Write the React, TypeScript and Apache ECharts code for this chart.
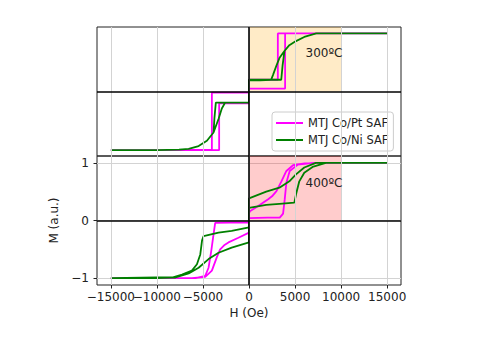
import React, { useEffect, useRef } from 'react';
import * as echarts from 'echarts';

// Axis ticks
const xTicks = [-15000, -10000, -5000, 0, 5000, 10000, 15000];
const xLabelsMain = [-10000, -5000, 0, 5000, 10000, 15000];
const xLabelsEdge = [-15000];
const yTicks = [-1, 0, 1];
const seriesNames = ['MTJ Co/Pt SAF', 'MTJ Co/Ni SAF'];
const panelLabels = ['300ºC', '400ºC'];

// 300ºC, MTJ Co/Pt SAF (loop: descending then ascending field)
const ptH300 = [15000, 10000, 5000, 3130, 3130, 1500, 0, 0, -2000, -4030, -4030, -8000, -15000,
  -15000, -8000, -3240, -3240, -1500, 0, 0, 2000, 3920, 3920, 8000, 15000];
const ptM300 = [0.99, 0.99, 0.99, 0.99, 0.2, 0.2, 0.2, -0.02, -0.02, -0.02, -0.99, -1.0, -1.0,
  -1.0, -1.0, -1.0, -0.2, -0.2, -0.2, 0.05, 0.05, 0.05, 0.99, 0.99, 0.99];

// 300ºC, MTJ Co/Ni SAF
const niH300 = [15000, 10000, 7300, 6000, 5100, 4380, 3850, 3300, 2950, 2600, 2400, 1200, 0, 0,
  -2000, -3600, -3750, -3850, -4570, -5470, -6550, -7600, -10000, -15000,
  -15000, -10000, -7600, -6550, -5470, -4570, -3850, -3310, -2950, -2590, -1200, 0, 0,
  2000, 3500, 3650, 3850, 4380, 5100, 6000, 7300, 10000, 15000];
const niM300 = [0.99, 0.99, 0.99, 0.93, 0.86, 0.79, 0.69, 0.57, 0.43, 0.28, 0.2, 0.19, 0.19, -0.19,
  -0.19, -0.19, -0.45, -0.7, -0.84, -0.93, -0.98, -0.99, -1.0, -1.0,
  -1.0, -1.0, -0.99, -0.98, -0.93, -0.84, -0.7, -0.47, -0.29, -0.19, -0.19, -0.19, 0.2,
  0.2, 0.2, 0.45, 0.69, 0.79, 0.86, 0.93, 0.99, 0.99, 0.99];

// 400ºC, MTJ Co/Pt SAF
const ptH400 = [15000, 10000, 7000, 6040, 4780, 4060, 3520, 2980, 2500, 2080, 1000, 100, 0, 0,
  -2000, -3670, -3850, -4100, -4390, -4750, -5800, -10000, -15000,
  -15000, -10000, -6200, -4750, -4030, -3500, -3130, -2700, -2230, -1150, 0, 0,
  2000, 3340, 3700, 3880, 4060, 4420, 5300, 7000, 10000, 15000];
const ptM400 = [1.0, 1.0, 1.0, 0.99, 0.96, 0.86, 0.68, 0.51, 0.42, 0.37, 0.25, 0.16, 0.13, -0.03,
  -0.035, -0.04, -0.24, -0.53, -0.82, -0.96, -1.0, -1.0, -1.0,
  -1.0, -1.0, -1.0, -0.98, -0.87, -0.64, -0.5, -0.43, -0.38, -0.3, -0.21, 0.04,
  0.05, 0.05, 0.12, 0.37, 0.66, 0.86, 0.97, 1.0, 1.0, 1.0];

// 400ºC, MTJ Co/Ni SAF
const niH400 = [15000, 10000, 7260, 6000, 5100, 4380, 3300, 1870, 70, 0, 0,
  -1880, -3310, -4930, -5100, -5290, -5650, -6200, -7270, -8350, -10000, -15000,
  -15000, -10000, -7980, -6550, -5470, -4390, -3310, -1880, 0, 0,
  1870, 3300, 4920, 5100, 5460, 6000, 6900, 8340, 10000, 15000];
const niM400 = [1.0, 1.0, 1.0, 0.92, 0.8, 0.68, 0.57, 0.5, 0.39, 0.38, -0.12,
  -0.18, -0.21, -0.27, -0.35, -0.59, -0.76, -0.87, -0.94, -0.99, -1.0, -1.0,
  -0.99, -0.99, -0.99, -0.92, -0.82, -0.67, -0.56, -0.47, -0.38, 0.22,
  0.27, 0.29, 0.31, 0.45, 0.68, 0.83, 0.93, 1.0, 1.0, 1.0];

const zip = (h: number[], m: number[]) => h.map((v, i) => [v, m[i]]);

export default function App() {
  const ref = useRef<HTMLDivElement>(null);
  useEffect(() => {
    if (!ref.current) return;
    const chart = echarts.init(ref.current, null, { renderer: 'svg' });
    const font = 'DejaVu Sans';
    const txt = '#222';
    const fmt = (v: number) => (v < 0 ? '\u2212' + Math.abs(v) : String(v));
    const gridLine = { color: '#d3d3d3', width: 1, type: 'solid' };
    const tickStyle = { color: '#222', width: 1 };
    const magenta = '#ff00ff';
    const green = '#008000';
    const zeroLines = {
      silent: true,
      symbol: ['none', 'none'],
      label: { show: false },
      lineStyle: { color: '#000', width: 1.6, type: 'solid' },
      emphasis: { disabled: true },
      data: [{ xAxis: 0 }, { yAxis: 0 }],
    };
    const vGrid = {
      silent: true,
      symbol: ['none', 'none'],
      label: { show: false },
      lineStyle: gridLine,
      emphasis: { disabled: true },
      data: xTicks.map((v) => ({ xAxis: v })),
    };
    const lineSeries = (name: string, xi: number, data: number[][], color: string, extra: any) => ({
      name,
      type: 'line',
      xAxisIndex: xi,
      yAxisIndex: xi,
      data,
      symbol: 'none',
      showSymbol: false,
      lineStyle: { color, width: 1.8 },
      itemStyle: { color },
      emphasis: { disabled: true },
      ...extra,
    });
    const xLabelStyle = {
      formatter: fmt, fontSize: 12, color: txt, margin: 6, fontFamily: font,
      showMinLabel: true, showMaxLabel: true, hideOverlap: false,
    };
    const option: any = {
      animation: false,
      textStyle: { fontFamily: font },
      grid: [
        { left: 97, top: 27, width: 304, height: 129, show: true, borderColor: '#222', borderWidth: 1, backgroundColor: 'transparent' },
        { left: 97, top: 156, width: 304, height: 129, show: true, borderColor: '#222', borderWidth: 1, backgroundColor: 'transparent' },
      ],
      xAxis: [
        {
          type: 'value', gridIndex: 0, min: -16500, max: 16500,
          axisLine: { show: false, onZero: false },
          axisTick: { show: false, customValues: xTicks },
          axisLabel: { show: false, customValues: xTicks },
          splitLine: { show: false },
        },
        {
          type: 'value', gridIndex: 1, min: -16500, max: 16500, position: 'bottom', offset: 0,
          axisLine: { show: false, onZero: false },
          axisTick: { show: true, customValues: xTicks, length: 3.5, lineStyle: tickStyle },
          axisLabel: { ...xLabelStyle, customValues: xLabelsMain },
          splitLine: { show: false },
          name: 'H (Oe)', nameLocation: 'middle', nameGap: 22,
          nameTextStyle: { fontSize: 12, color: txt, fontFamily: font },
        },
        {
          type: 'value', gridIndex: 1, min: -16500, max: 16500, position: 'bottom', offset: 0,
          axisLine: { show: false, onZero: false },
          axisTick: { show: false, customValues: xLabelsEdge },
          axisLabel: { ...xLabelStyle, customValues: xLabelsEdge },
          splitLine: { show: false },
        },
      ],
      yAxis: [
        {
          type: 'value', gridIndex: 0, min: -1.1, max: 1.1,
          axisLine: { show: false, onZero: false },
          axisTick: { show: false },
          axisLabel: { show: false },
          splitLine: { show: false },
        },
        {
          type: 'value', gridIndex: 1, min: -1.12, max: 1.12,
          axisLine: { show: false, onZero: false },
          axisTick: { show: true, customValues: yTicks, length: 3.5, lineStyle: tickStyle },
          axisLabel: {
            customValues: yTicks, formatter: fmt, fontSize: 12, color: txt, margin: 8, fontFamily: font,
            showMinLabel: true, showMaxLabel: true,
          },
          splitLine: { show: true, lineStyle: gridLine },
          name: 'M (a.u.)', nameLocation: 'middle', nameGap: 30, nameRotate: 90,
          nameTextStyle: { fontSize: 12, color: txt, fontFamily: font },
        },
      ],
      legend: {
        data: seriesNames.map((n) => ({ name: n, icon: 'rect' })),
        orient: 'vertical',
        left: 272,
        top: 112,
        itemWidth: 27,
        itemHeight: 2,
        itemGap: 5,
        padding: [5, 5, 5, 4],
        backgroundColor: 'rgba(255,255,255,0.85)',
        borderColor: '#cccccc',
        borderWidth: 1,
        borderRadius: 3,
        textStyle: { fontSize: 11.5, color: txt, fontFamily: font },
      },
      series: [
        {
          type: 'line', xAxisIndex: 0, yAxisIndex: 0, data: [], silent: true, z: 1,
          markLine: vGrid,
          markArea: {
            silent: true,
            itemStyle: { color: 'rgba(255,165,0,0.22)' },
            label: { show: false },
            data: [[{ coord: [0, 0] }, { coord: [10000, 1.1] }]],
          },
        },
        {
          type: 'line', xAxisIndex: 1, yAxisIndex: 1, data: [], silent: true, z: 1,
          markLine: vGrid,
          markArea: {
            silent: true,
            itemStyle: { color: 'rgba(255,0,0,0.2)' },
            label: { show: false },
            data: [[{ coord: [0, 0] }, { coord: [10000, 1.12] }]],
          },
        },
        lineSeries(seriesNames[0], 0, zip(ptH300, ptM300), magenta, {}),
        lineSeries(seriesNames[1], 0, zip(niH300, niM300), green, { markLine: zeroLines }),
        lineSeries(seriesNames[0], 1, zip(ptH400, ptM400), magenta, {}),
        lineSeries(seriesNames[1], 1, zip(niH400, niM400), green, { markLine: zeroLines }),
      ],
      graphic: [
        { type: 'text', x: 324, y: 53, z: 10, style: { text: panelLabels[0], fill: txt, font: '12px "DejaVu Sans"', align: 'center', verticalAlign: 'middle' } },
        { type: 'text', x: 324, y: 183, z: 10, style: { text: panelLabels[1], fill: txt, font: '12px "DejaVu Sans"', align: 'center', verticalAlign: 'middle' } },
      ],
    };
    chart.setOption(option);
    return () => chart.dispose();
  }, []);
  return <div ref={ref} style={{ position: 'fixed', left: 0, top: 0, width: 490, height: 350, background: '#fff' }} />;
}
